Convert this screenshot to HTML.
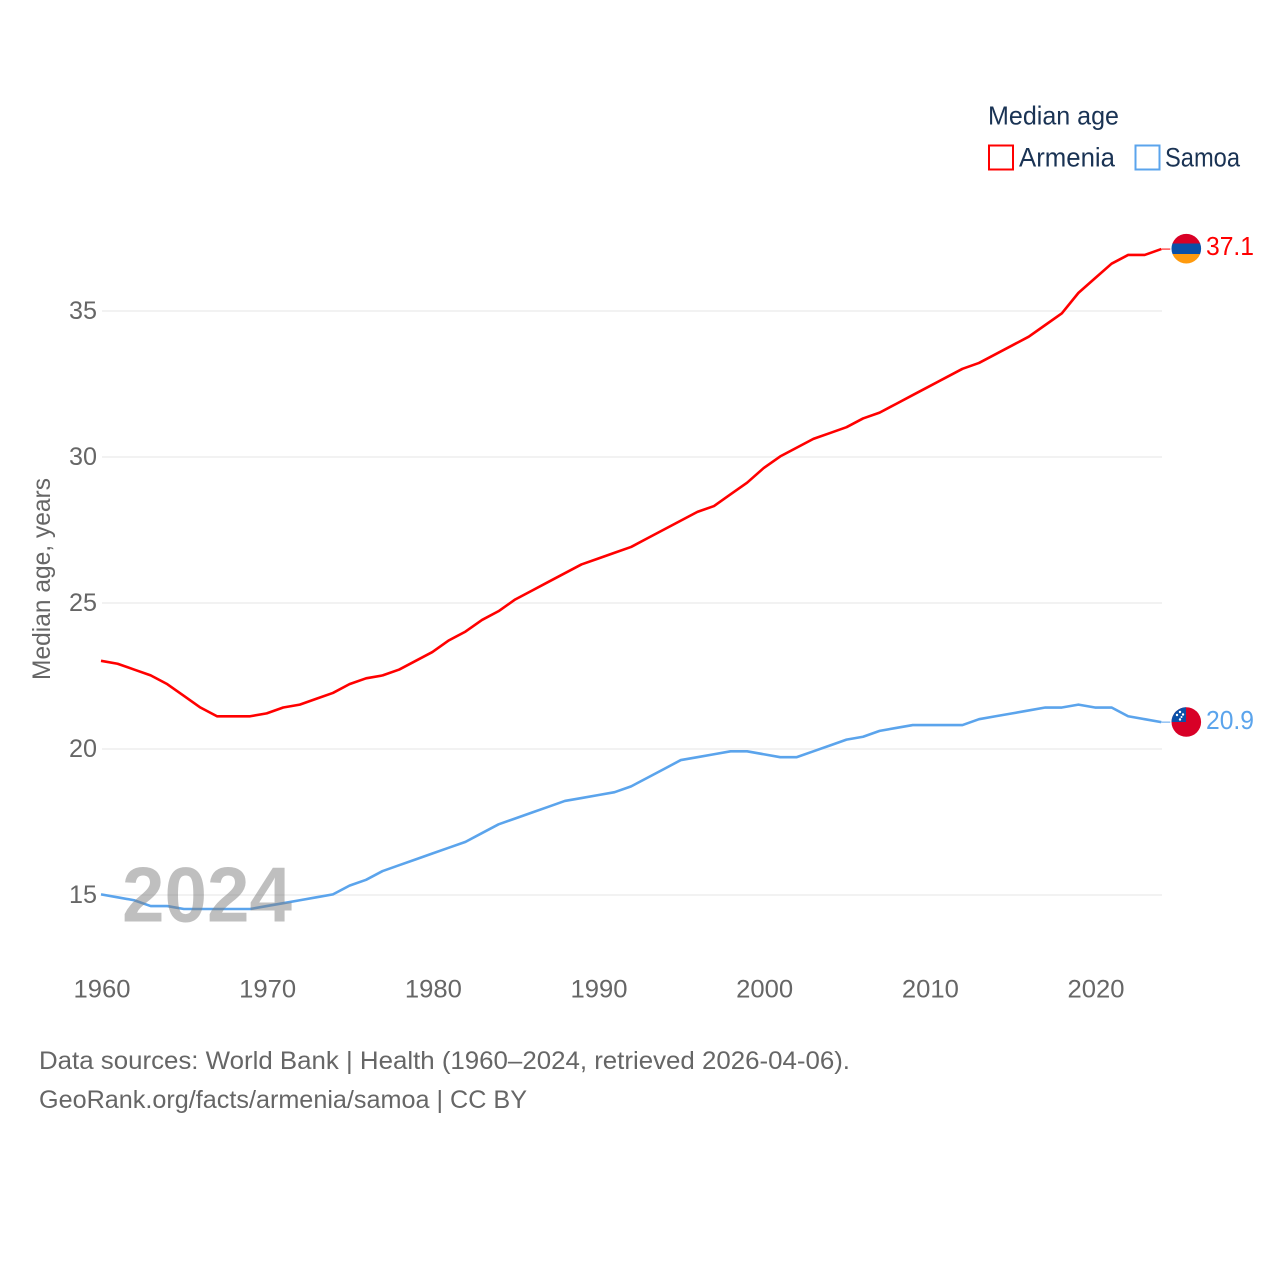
<!DOCTYPE html>
<html lang="en">
<head>
<meta charset="utf-8">
<title>Median age: Armenia and Samoa</title>
<style>
html,body{margin:0;padding:0;background:#fff;}
svg{display:block;font-family:"Liberation Sans",sans-serif;}
</style>
</head>
<body>
<svg id="chart" xmlns="http://www.w3.org/2000/svg" width="1280" height="1280" viewBox="0 0 1280 1280">
  <rect width="1280" height="1280" fill="#fff"/>
  <g id="grid"></g>
  <g id="yticks"></g>
  <g id="xticks"></g>
  <text transform="translate(50,680) rotate(-90)" font-size="25" fill="#666" textLength="202" lengthAdjust="spacingAndGlyphs">Median age, years</text>
  <g id="series" transform="translate(-1,-0.6)"></g>

  <text x="122" y="921.5" font-size="78" font-weight="700" fill="#808080" opacity="0.5" textLength="170" lengthAdjust="spacingAndGlyphs">2024</text>

  <defs>
    <clipPath id="clip-am"><circle cx="1186.3" cy="248.7" r="14.8"/></clipPath>
    <clipPath id="clip-ws"><circle cx="1186.3" cy="722" r="14.8"/></clipPath>
  </defs>
  <g clip-path="url(#clip-am)">
    <rect x="1171" y="233" width="31" height="11" fill="#d90026"/>
    <rect x="1171" y="243.5" width="31" height="10.5" fill="#0b50a8"/>
    <rect x="1171" y="254" width="31" height="11" fill="#ff9a0e"/>
  </g>
  <g clip-path="url(#clip-ws)">
    <rect x="1171" y="707" width="31" height="31" fill="#d80027"/>
    <rect x="1171" y="707" width="15" height="15" fill="#0b50a8"/>
    <circle cx="1180" cy="712" r="1.2" fill="#fff"/>
    <circle cx="1177" cy="715" r="1.2" fill="#fff"/>
    <circle cx="1183" cy="714.5" r="1.2" fill="#fff"/>
    <circle cx="1181.5" cy="717" r="1" fill="#fff"/>
    <circle cx="1180" cy="719.5" r="1.2" fill="#fff"/>
  </g>
  <text x="1206" y="255" font-size="26" fill="#ff0000" textLength="48" lengthAdjust="spacingAndGlyphs">37.1</text>
  <text x="1206" y="729" font-size="26" fill="#5ba4ec" textLength="48" lengthAdjust="spacingAndGlyphs">20.9</text>

  <text x="988" y="124.5" font-size="26" fill="#1a3354" textLength="131" lengthAdjust="spacingAndGlyphs">Median age</text>
  <g>
    <rect x="989" y="145.5" width="24" height="24" fill="#fff" stroke="#ff0000" stroke-width="2"/>
    <text x="1019" y="166.5" font-size="27" fill="#1a3354" textLength="96" lengthAdjust="spacingAndGlyphs">Armenia</text>
  </g>
  <g>
    <rect x="1135.5" y="145.5" width="24" height="24" fill="#fff" stroke="#5ba4ec" stroke-width="2"/>
    <text x="1165" y="166.5" font-size="27" fill="#1a3354" textLength="75" lengthAdjust="spacingAndGlyphs">Samoa</text>
  </g>

  <text x="39" y="1069" font-size="25" fill="#666" textLength="811" lengthAdjust="spacingAndGlyphs">Data sources: World Bank | Health (1960–2024, retrieved 2026-04-06).</text>
  <text x="39" y="1108" font-size="25" fill="#666" textLength="488" lengthAdjust="spacingAndGlyphs">GeoRank.org/facts/armenia/samoa | CC BY</text>
</svg>
<script>
const years = [1960,1961,1962,1963,1964,1965,1966,1967,1968,1969,1970,1971,1972,1973,1974,1975,1976,1977,1978,1979,1980,1981,1982,1983,1984,1985,1986,1987,1988,1989,1990,1991,1992,1993,1994,1995,1996,1997,1998,1999,2000,2001,2002,2003,2004,2005,2006,2007,2008,2009,2010,2011,2012,2013,2014,2015,2016,2017,2018,2019,2020,2021,2022,2023,2024];
const armenia = [23.0,22.9,22.7,22.5,22.2,21.8,21.4,21.1,21.1,21.1,21.2,21.4,21.5,21.7,21.9,22.2,22.4,22.5,22.7,23.0,23.3,23.7,24.0,24.4,24.7,25.1,25.4,25.7,26.0,26.3,26.5,26.7,26.9,27.2,27.5,27.8,28.1,28.3,28.7,29.1,29.6,30.0,30.3,30.6,30.8,31.0,31.3,31.5,31.8,32.1,32.4,32.7,33.0,33.2,33.5,33.8,34.1,34.5,34.9,35.6,36.1,36.6,36.9,36.9,37.1];
const samoa = [15.0,14.9,14.8,14.6,14.6,14.5,14.5,14.5,14.5,14.5,14.6,14.7,14.8,14.9,15.0,15.3,15.5,15.8,16.0,16.2,16.4,16.6,16.8,17.1,17.4,17.6,17.8,18.0,18.2,18.3,18.4,18.5,18.7,19.0,19.3,19.6,19.7,19.8,19.9,19.9,19.8,19.7,19.7,19.9,20.1,20.3,20.4,20.6,20.7,20.8,20.8,20.8,20.8,21.0,21.1,21.2,21.3,21.4,21.4,21.5,21.4,21.4,21.1,21.0,20.9];
const yTickLabels = [15,20,25,30,35];
const xTickLabels = [1960,1970,1980,1990,2000,2010,2020];

const NS = 'http://www.w3.org/2000/svg';
function xScale(year){ return 102 + (year - 1960) * (994 / 60); }
function yScale(v){ return 895 - (v - 15) * 29.2; }
function make(tag, parent, attrs){
  const el = document.createElementNS(NS, tag);
  for (const k in attrs) el.setAttribute(k, attrs[k]);
  parent.appendChild(el);
  return el;
}

const grid = document.getElementById('grid');
const yticks = document.getElementById('yticks');
const xticks = document.getElementById('xticks');
const seriesGroup = document.getElementById('series');

yTickLabels.forEach(function(v){
  const line = make('line', grid, {x1:102, x2:1162, y1:yScale(v), y2:yScale(v), stroke:'#eeeeee', 'stroke-width':1.5});
  
  
  const t = make('text', yticks, {x:97, y:yScale(v)+8, 'font-size':25, fill:'#666', 'text-anchor':'end', textLength:28, lengthAdjust:'spacingAndGlyphs'});
  t.textContent = v;
  
  
});

xTickLabels.forEach(function(y){
  const t = make('text', xticks, {x:xScale(y), y:997.5, 'font-size':25, fill:'#666', 'text-anchor':'middle', textLength:57, lengthAdjust:'spacingAndGlyphs'});
  t.textContent = y;
  
  
});

function drawSeries(values, color){
  const pts = values.map(function(v, i){ return xScale(years[i]).toFixed(2) + ',' + yScale(v).toFixed(2); }).join(' ');
  const line = make('polyline', seriesGroup, {points:pts, fill:'none', stroke:color, 'stroke-width':2.6, 'stroke-linejoin':'round'});
  
  
  const last = values[values.length - 1];
  const lastX = xScale(years[years.length - 1]);
  const conn = make('line', seriesGroup, {x1:lastX, x2:lastX + 9, y1:yScale(last), y2:yScale(last), stroke:color, 'stroke-width':1});
  
  
}
drawSeries(armenia, '#ff0000');
drawSeries(samoa, '#5ba4ec');
</script>
</body>
</html>
